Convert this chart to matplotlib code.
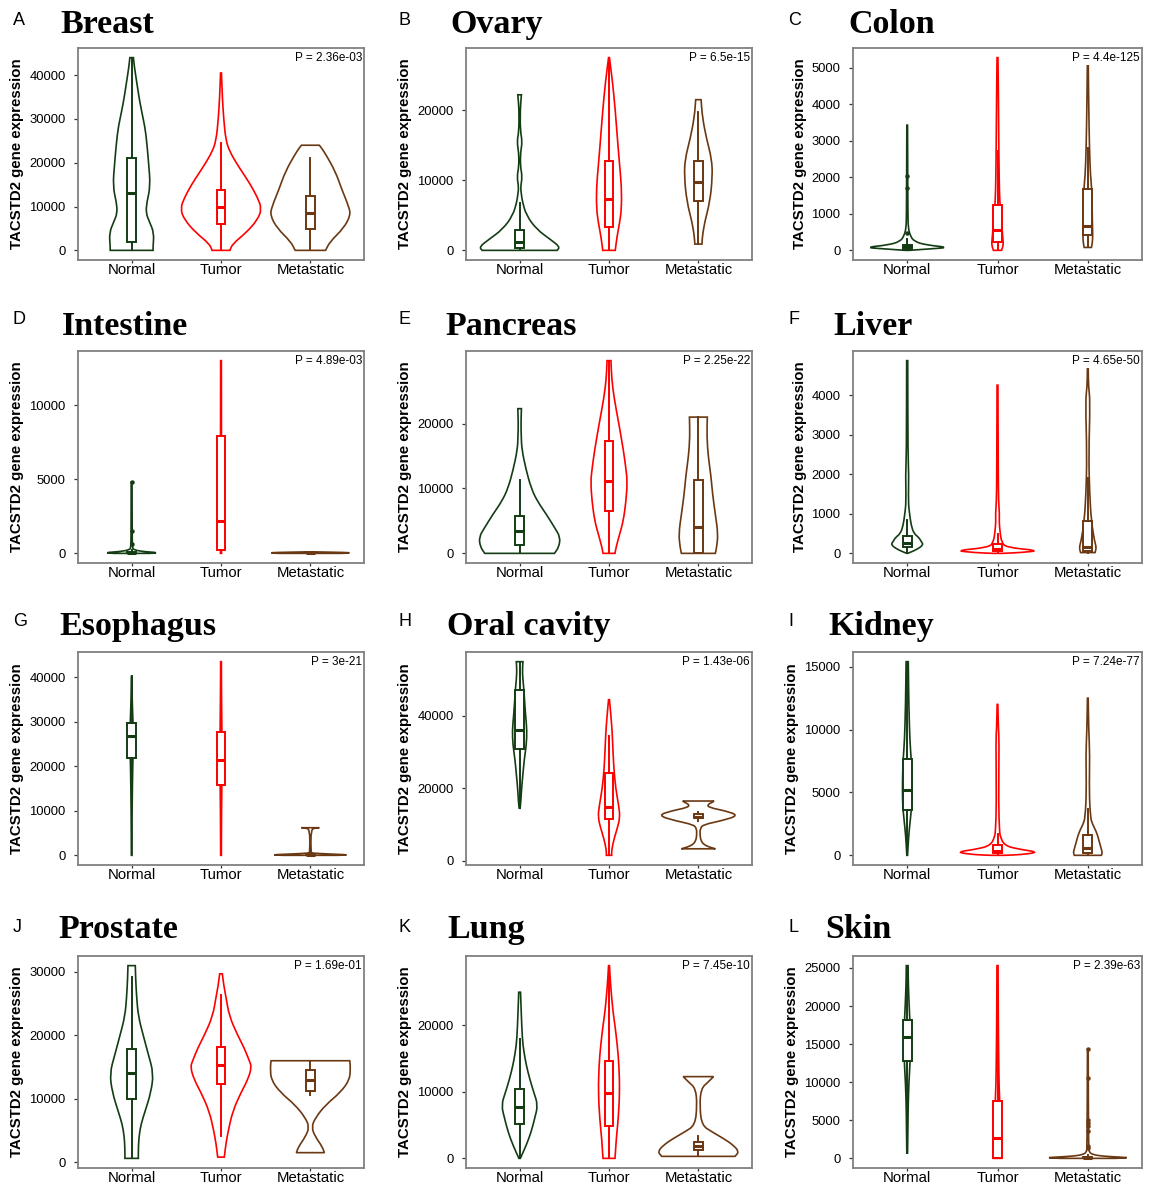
import numpy as np
import matplotlib
matplotlib.use("Agg")
import matplotlib.pyplot as plt
from matplotlib.path import Path
from matplotlib.patches import PathPatch

plt.rcParams['font.family'] = ['Liberation Sans', 'DejaVu Sans']

groups = ["Normal", "Tumor", "Metastatic"]
group_colors = ["#143c14", "#ff0000", "#6a3812"]

tissues = ["Breast", "Ovary", "Colon", "Intestine", "Pancreas", "Liver",
           "Esophagus", "Oral cavity", "Kidney", "Prostate", "Lung", "Skin"]
panel_letters = ["A", "B", "C", "D", "E", "F", "G", "H", "I", "J", "K", "L"]
p_values = ["2.36e-03", "6.5e-15", "4.4e-125", "4.89e-03", "2.25e-22", "4.65e-50",
            "3e-21", "1.43e-06", "7.24e-77", "1.69e-01", "7.45e-10", "2.39e-63"]
ytick_steps = [10000, 10000, 1000, 5000, 10000, 1000, 10000, 20000, 5000, 10000, 10000, 5000]

# violin outlines: (expression, half width in category units)
# box stats: (whisker low, q1, median, q3, whisker high)
breast_violins = [
    [(0, 0.24), (900, 0.24), (4000, 0.25), (6500, 0.2), (8500, 0.16), (11000, 0.17), (14600, 0.21),
     (20000, 0.19), (26800, 0.16), (30000, 0.13), (34000, 0.09), (38000, 0.06), (42000, 0.03), (44000, 0.02)],
    [(0, 0.1), (1500, 0.13), (4000, 0.28), (7000, 0.41), (9500, 0.455), (12000, 0.41), (15000, 0.33),
     (17500, 0.25), (20000, 0.17), (22500, 0.1), (25000, 0.055), (30000, 0.03), (35000, 0.015), (40500, 0.005)],
    [(0, 0.17), (2000, 0.22), (5000, 0.37), (8000, 0.45), (10000, 0.43), (14000, 0.35), (18000, 0.28),
     (22000, 0.17), (23500, 0.12), (24000, 0.1)],
]
breast_boxes = [(0, 1900, 13000, 21000, 44000), (0, 6000, 9800, 13700, 24500), (0, 4800, 8600, 12300, 21200)]

ovary_violins = [
    [(0, 0.42), (500, 0.45), (1500, 0.35), (3000, 0.19), (5000, 0.075), (7000, 0.03), (8000, 0.02),
     (9000, 0.01), (10500, 0.03), (12000, 0.008), (14000, 0.01), (15500, 0.03), (17000, 0.008),
     (20000, 0.006), (22200, 0.02)],
    [(0, 0.07), (2000, 0.09), (4000, 0.12), (6000, 0.14), (9000, 0.14), (12000, 0.12), (15000, 0.1),
     (20000, 0.07), (24000, 0.04), (27500, 0.005)],
    [(900, 0.04), (2000, 0.045), (4000, 0.07), (7000, 0.13), (10500, 0.157), (13000, 0.15), (16000, 0.09),
     (19000, 0.045), (21500, 0.03)],
]
ovary_boxes = [(0, 300, 1200, 2900, 6800), (0, 3300, 7300, 12700, 27500), (900, 7000, 9700, 12700, 19800)]

colon_violins = [
    [(0, 0.02), (40, 0.25), (80, 0.47), (150, 0.2), (250, 0.075), (400, 0.035), (600, 0.012),
     (1000, 0.008), (2000, 0.006), (3430, 0.004)],
    [(0, 0.045), (150, 0.065), (300, 0.06), (600, 0.05), (1000, 0.04), (1300, 0.025), (2000, 0.018),
     (3000, 0.014), (4000, 0.011), (5280, 0.005)],
    [(80, 0.04), (200, 0.05), (420, 0.055), (800, 0.05), (1700, 0.045), (2000, 0.03), (2800, 0.018),
     (4000, 0.01), (5080, 0.005)],
]
colon_boxes = [(0, 50, 110, 160, 300), (0, 230, 560, 1230, 2730), (80, 420, 680, 1670, 2800)]
colon_fliers = [[480, 1700, 2050], [], []]

intestine_violins = [
    [(0, 0.2), (50, 0.31), (120, 0.12), (250, 0.02), (400, 0.01), (1000, 0.006), (4800, 0.005)],
    [(0, 0.006), (5000, 0.006), (13000, 0.004)],
    [(0, 0.35), (30, 0.455), (60, 0.4), (100, 0.05)],
]
intestine_boxes = [(0, 20, 50, 100, 250), (0, 200, 2200, 7900, 13000), (0, 20, 40, 60, 100)]
intestine_fliers = [[600, 1500, 4800], [], []]

pancreas_violins = [
    [(0, 0.39), (1000, 0.44), (2500, 0.455), (4000, 0.39), (6000, 0.3), (8000, 0.2), (10000, 0.13),
     (13000, 0.07), (16000, 0.025), (18000, 0.018), (20000, 0.015), (22300, 0.02)],
    [(0, 0.067), (1000, 0.08), (3000, 0.12), (5000, 0.16), (8000, 0.19), (11000, 0.205), (13000, 0.19),
     (16000, 0.16), (20000, 0.11), (24000, 0.056), (27000, 0.03), (29700, 0.022)],
    [(0, 0.19), (1000, 0.205), (3000, 0.22), (6000, 0.19), (9000, 0.16), (12000, 0.14), (15000, 0.11),
     (18000, 0.095), (21000, 0.1)],
]
pancreas_boxes = [(0, 1300, 3400, 5800, 11300), (0, 6500, 11100, 17300, 29700), (0, 0, 4100, 11300, 21000)]

liver_violins = [
    [(0, 0.005), (100, 0.11), (220, 0.18), (300, 0.155), (400, 0.13), (500, 0.075), (700, 0.045),
     (1000, 0.026), (1300, 0.012), (2000, 0.018), (2500, 0.008), (4870, 0.006)],
    [(0, 0.05), (20, 0.26), (70, 0.47), (150, 0.09), (300, 0.045), (500, 0.03), (800, 0.018),
     (1000, 0.022), (1300, 0.012), (2000, 0.008), (4250, 0.005)],
    [(20, 0.08), (150, 0.095), (300, 0.075), (800, 0.04), (1500, 0.02), (2500, 0.01), (3850, 0.026),
     (4200, 0.008), (4700, 0.004)],
]
liver_boxes = [(0, 160, 270, 440, 850), (0, 60, 120, 230, 480), (20, 50, 160, 820, 1900)]

esophagus_violins = [
    [(0, 0.003), (10000, 0.005), (20000, 0.012), (26000, 0.02), (30000, 0.015), (35000, 0.006), (40200, 0.003)],
    [(0, 0.004), (10000, 0.006), (20000, 0.012), (25000, 0.012), (35000, 0.006), (43500, 0.004)],
    [(0, 0.3), (100, 0.455), (300, 0.2), (500, 0.02), (600, 0.006), (5900, 0.006), (6100, 0.06), (6200, 0.1)],
]
esophagus_boxes = [(12000, 21800, 26700, 29800, 40200), (0, 15900, 21400, 27700, 43500), (0, 50, 150, 300, 600)]

oral_violins = [
    [(14500, 0.005), (16000, 0.012), (20000, 0.022), (24000, 0.037), (28000, 0.052), (32000, 0.075),
     (36000, 0.082), (40000, 0.067), (44000, 0.056), (48000, 0.045), (52000, 0.03), (55000, 0.037)],
    [(1500, 0.03), (3000, 0.03), (6000, 0.056), (9000, 0.093), (12000, 0.123), (15000, 0.11),
     (20000, 0.075), (25000, 0.056), (30000, 0.045), (35000, 0.037), (40000, 0.022), (44500, 0.005)],
    [(3300, 0.19), (3800, 0.12), (4500, 0.06), (5500, 0.03), (7000, 0.018), (9000, 0.02), (10000, 0.06),
     (11000, 0.25), (12500, 0.455), (13800, 0.3), (14700, 0.12), (15500, 0.1), (16200, 0.16), (16500, 0.175)],
]
oral_boxes = [(14500, 30800, 36000, 47300, 55000), (1500, 11500, 14800, 24200, 34500), (11000, 11700, 12200, 12800, 13500)]

kidney_violins = [
    [(0, 0.004), (1000, 0.012), (2000, 0.022), (3500, 0.045), (4500, 0.052), (6000, 0.052), (7700, 0.045),
     (9000, 0.03), (12000, 0.018), (15400, 0.012)],
    [(0, 0.07), (50, 0.26), (250, 0.465), (500, 0.22), (800, 0.075), (1500, 0.03), (2000, 0.022),
     (4000, 0.012), (9300, 0.018), (10000, 0.01), (12000, 0.004)],
    [(0, 0.15), (200, 0.16), (500, 0.15), (1000, 0.13), (1800, 0.1), (2500, 0.05), (3000, 0.03),
     (5000, 0.015), (8000, 0.022), (10000, 0.01), (12500, 0.004)],
]
kidney_boxes = [(0, 3600, 5200, 7700, 15400), (0, 200, 350, 800, 1700), (0, 200, 550, 1600, 3700)]

prostate_violins = [
    [(600, 0.075), (2000, 0.075), (4000, 0.082), (6000, 0.105), (8000, 0.15), (11000, 0.216), (14000, 0.245),
     (17000, 0.187), (20000, 0.13), (23000, 0.075), (26000, 0.056), (29000, 0.045), (31000, 0.041)],
    [(800, 0.037), (3000, 0.056), (5000, 0.082), (8000, 0.13), (11000, 0.224), (13000, 0.3), (15000, 0.343),
     (16000, 0.317), (18000, 0.26), (20000, 0.187), (23000, 0.093), (26000, 0.056), (28000, 0.03), (29700, 0.015)],
    [(1500, 0.157), (2500, 0.13), (4000, 0.056), (5500, 0.012), (7000, 0.056), (9000, 0.168), (11000, 0.336),
     (13000, 0.44), (15000, 0.448), (16000, 0.44)],
]
prostate_boxes = [(600, 9900, 14000, 17900, 29200), (4100, 12400, 15300, 18100, 26300), (10600, 11200, 12900, 14600, 16000)]

lung_violins = [
    [(0, 0.008), (2000, 0.075), (4000, 0.13), (6000, 0.168), (8000, 0.205), (10000, 0.157), (12000, 0.112),
     (14000, 0.075), (16000, 0.048), (18000, 0.03), (22000, 0.018), (25000, 0.01)],
    [(0, 0.067), (1500, 0.075), (3000, 0.082), (6000, 0.104), (10000, 0.12), (14000, 0.112), (17000, 0.093),
     (20000, 0.067), (22000, 0.045), (26000, 0.018), (29000, 0.005)],
    [(300, 0.41), (1000, 0.455), (2000, 0.39), (3000, 0.28), (4000, 0.15), (5000, 0.037), (8000, 0.015),
     (10500, 0.03), (11500, 0.11), (12300, 0.17)],
]
lung_boxes = [(0, 5100, 7800, 10500, 18000), (0, 4900, 9900, 14600, 29000), (500, 1200, 1800, 2500, 3300)]

skin_violins = [
    [(700, 0.004), (4000, 0.008), (7000, 0.011), (10000, 0.019), (13000, 0.034), (16000, 0.037),
     (18000, 0.03), (20000, 0.022), (23000, 0.012), (25300, 0.01)],
    [(0, 0.045), (3000, 0.045), (8000, 0.019), (15000, 0.011), (20000, 0.008), (25300, 0.006)],
    [(0, 0.3), (80, 0.46), (150, 0.37), (300, 0.15), (500, 0.056), (800, 0.015), (1500, 0.008), (14300, 0.004)],
]
skin_boxes = [(700, 12800, 15900, 18200, 25300), (0, 0, 2700, 7500, 18000), (0, 20, 80, 200, 500)]
skin_fliers = [[], [], [1300, 1600, 3600, 4200, 4700, 5100, 10500, 14300]]

no_fliers = [[], [], []]

all_violins = [breast_violins, ovary_violins, colon_violins, intestine_violins, pancreas_violins,
               liver_violins, esophagus_violins, oral_violins, kidney_violins, prostate_violins,
               lung_violins, skin_violins]
all_boxes = [breast_boxes, ovary_boxes, colon_boxes, intestine_boxes, pancreas_boxes, liver_boxes,
             esophagus_boxes, oral_boxes, kidney_boxes, prostate_boxes, lung_boxes, skin_boxes]
all_fliers = [no_fliers, no_fliers, colon_fliers, intestine_fliers, no_fliers, no_fliers,
              no_fliers, no_fliers, no_fliers, no_fliers, no_fliers, skin_fliers]

# layout in pixels
W, H = 1151, 1185
col_x = [(78, 364), (466, 752), (853, 1142)]
row_y = [(48, 260), (351, 563), (652, 865), (956, 1168)]
letter_x = [13, 398, 788]
letter_base = [25, 324, 626, 932]
title_base = [33, 335, 635, 938]
title_x = [60, 450, 848, 62, 445, 833, 59, 447, 828, 58, 447, 825]


def side_path(pts, first_code):
    # smooth one side of the outline with quadratic curves through midpoints
    verts = [pts[0]]
    codes = [first_code]
    if len(pts) > 2:
        verts.append(((pts[0][0] + pts[1][0]) / 2, (pts[0][1] + pts[1][1]) / 2))
        codes.append(Path.LINETO)
        for i in range(1, len(pts) - 1):
            nxt = ((pts[i][0] + pts[i + 1][0]) / 2, (pts[i][1] + pts[i + 1][1]) / 2)
            verts += [pts[i], nxt]
            codes += [Path.CURVE3, Path.CURVE3]
    verts.append(pts[-1])
    codes.append(Path.LINETO)
    return verts, codes


def violin_patch(profile, center, color):
    right = [(center + w, y) for y, w in profile]
    left = [(center - w, y) for y, w in reversed(profile)]
    v1, c1 = side_path(right, Path.MOVETO)
    v2, c2 = side_path(left, Path.LINETO)
    verts = v1 + v2 + [(0, 0)]
    codes = c1 + c2 + [Path.CLOSEPOLY]
    return PathPatch(Path(verts, codes), facecolor="white", edgecolor=color, lw=1.2, zorder=2)


fig = plt.figure(figsize=(W / 100, H / 100), dpi=100)

for k, tissue in enumerate(tissues):
    r, c = divmod(k, 3)
    x0, x1 = col_x[c]
    y0, y1 = row_y[r]
    ax = fig.add_axes([x0 / W, 1 - y1 / H, (x1 - x0) / W, (y1 - y0) / H])

    lo, hi = np.inf, -np.inf
    for g in range(3):
        prof = all_violins[k][g]
        ax.add_patch(violin_patch(prof, g + 1, group_colors[g]))
        ys = [p[0] for p in prof] + all_fliers[k][g]
        lo, hi = min(lo, min(ys)), max(hi, max(ys))

        wl, q1, med, q3, wh = all_boxes[k][g]
        stats = [dict(whislo=wl, q1=q1, med=med, q3=q3, whishi=wh, fliers=all_fliers[k][g])]
        col = group_colors[g]
        ax.bxp(stats, positions=[g + 1], widths=0.1, showcaps=False, patch_artist=True,
               manage_ticks=False, zorder=3,
               boxprops=dict(facecolor="white", edgecolor=col, linewidth=1.4),
               whiskerprops=dict(color=col, linewidth=1.4),
               medianprops=dict(color=col, linewidth=2.2),
               flierprops=dict(marker="o", markersize=2.2, markerfacecolor=col,
                               markeredgecolor=col))

    pad = (hi - lo) * 0.05
    ax.set_ylim(lo - pad, hi + pad)
    ax.set_xlim(0.4, 3.6)
    step = ytick_steps[k]
    ticks = np.arange(0, hi + 1, step)
    ax.set_yticks(ticks)
    ax.set_yticklabels([str(int(t)) for t in ticks])
    ax.set_xticks([1, 2, 3])
    ax.set_xticklabels(groups)

    for s in ax.spines.values():
        s.set_color("#808080")
        s.set_linewidth(1.3)
    ax.tick_params(axis="y", length=3, width=0.9, color="#333333", pad=6, labelsize=9.4)
    ax.tick_params(axis="x", length=2, width=0.9, color="#333333", pad=0.5, labelsize=10.7)
    ax.set_ylabel("TACSTD2 gene expression", fontsize=10.8, fontweight="bold", labelpad=3.5)

    ax.text(1 - 2 / (x1 - x0), 1 - 10 / (y1 - y0), "P = " + p_values[k], transform=ax.transAxes,
            ha="right", va="center", fontsize=8.5, zorder=5,
            bbox=dict(facecolor="white", edgecolor="none", pad=0.5))

    fig.text(letter_x[c] / W, 1 - letter_base[r] / H, panel_letters[k], fontsize=13,
             va="baseline", ha="left")
    fig.text(title_x[k] / W, 1 - title_base[r] / H, tissue, fontsize=24.5, fontweight="bold",
             family="Liberation Serif", va="baseline", ha="left")

fig.savefig("out.png", dpi=100)
